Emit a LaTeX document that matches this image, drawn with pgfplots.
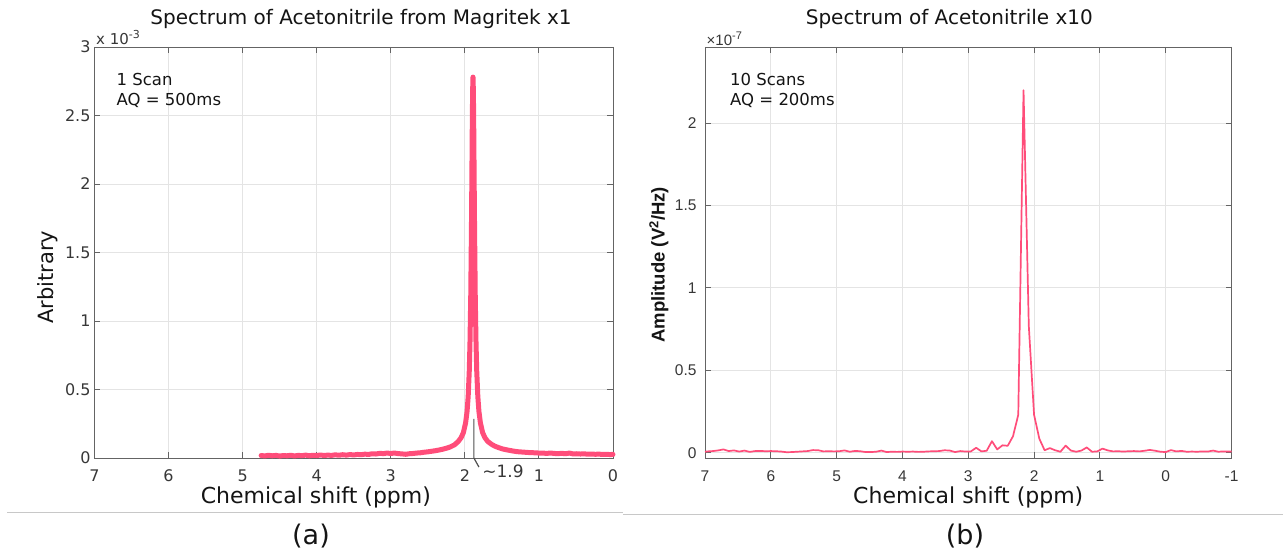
\documentclass[border=0pt]{standalone}
\usepackage{pgfplots}
\pgfplotsset{compat=1.18}
\usepackage{fontspec}
\setmainfont{DejaVu Sans}
\newfontfamily\arial{Liberation Sans}
\definecolor{pk}{RGB}{255,77,122}
\definecolor{axc}{RGB}{100,100,100}
\definecolor{tkc}{RGB}{55,55,55}
\definecolor{grc}{RGB}{228,228,228}
\definecolor{txc}{RGB}{20,20,20}
\definecolor{sepc}{RGB}{200,200,200}
\newcommand\fs[2]{\fontsize{#1bp}{#2bp}\selectfont}

\pgfplotstableread{
x y
4.75 0.018
4.70 0.015
4.65 0.020
4.60 0.016
4.55 0.019
4.50 0.014
4.45 0.018
4.40 0.016
4.35 0.020
4.30 0.015
4.25 0.019
4.20 0.017
4.15 0.021
4.10 0.016
4.05 0.020
4.00 0.018
3.95 0.022
3.90 0.018
3.85 0.021
3.80 0.019
3.75 0.023
3.70 0.020
3.65 0.024
3.60 0.021
3.55 0.025
3.50 0.022
3.45 0.026
3.40 0.024
3.35 0.028
3.30 0.026
3.25 0.031
3.20 0.029
3.15 0.034
3.10 0.032
3.05 0.036
3.00 0.033
2.95 0.036
2.90 0.032
2.85 0.030
2.80 0.027
2.75 0.031
2.70 0.033
2.65 0.036
2.60 0.038
2.55 0.042
2.50 0.045
2.45 0.049
2.40 0.053
2.35 0.058
2.30 0.064
2.25 0.071
2.20 0.080
2.14 0.096
2.09 0.120
2.05 0.149
2.02 0.185
1.99 0.256
1.97 0.340
1.955 0.450
1.94 0.640
1.93 0.860
1.92 1.200
1.91 1.740
1.905 2.070
1.90 2.410
1.895 2.680
1.89 2.780
1.885 2.680
1.88 2.410
1.875 2.070
1.87 1.740
1.86 1.200
1.85 0.860
1.84 0.640
1.825 0.450
1.81 0.340
1.79 0.256
1.76 0.185
1.73 0.149
1.69 0.120
1.64 0.100
1.59 0.085
1.54 0.075
1.49 0.066
1.44 0.060
1.39 0.055
1.34 0.050
1.29 0.046
1.24 0.044
1.19 0.042
1.14 0.040
1.09 0.039
1.04 0.037
0.99 0.036
0.94 0.035
0.89 0.034
0.84 0.036
0.79 0.033
0.74 0.032
0.69 0.034
0.64 0.031
0.59 0.036
0.54 0.030
0.49 0.031
0.44 0.029
0.39 0.030
0.34 0.028
0.29 0.029
0.24 0.027
0.19 0.028
0.14 0.026
0.09 0.027
0.04 0.025
0.00 0.026
}\magritek

\pgfplotstableread{
x y
7.00 0.006
6.96 0.008
6.88 0.010
6.80 0.014
6.72 0.020
6.64 0.010
6.56 0.014
6.48 0.007
6.40 0.013
6.32 0.005
6.24 0.010
6.16 0.011
6.08 0.009
6.00 0.010
5.92 0.009
5.84 0.007
5.76 0.003
5.68 0.004
5.60 0.006
5.52 0.008
5.44 0.010
5.36 0.016
5.28 0.015
5.20 0.008
5.12 0.009
5.04 0.008
4.96 0.009
4.88 0.014
4.80 0.006
4.72 0.011
4.64 0.009
4.56 0.004
4.48 0.004
4.40 0.006
4.32 0.013
4.24 0.004
4.16 0.006
4.08 0.005
4.00 0.007
3.92 0.006
3.84 0.007
3.76 0.005
3.68 0.006
3.60 0.008
3.52 0.009
3.44 0.010
3.36 0.015
3.28 0.013
3.20 0.004
3.12 0.010
3.04 0.007
2.96 0.008
2.88 0.030
2.80 0.008
2.72 0.012
2.64 0.070
2.56 0.020
2.48 0.045
2.40 0.042
2.32 0.100
2.24 0.230
2.16 2.200
2.08 0.770
2.00 0.230
1.92 0.085
1.84 0.015
1.76 0.028
1.68 0.015
1.60 0.006
1.52 0.043
1.44 0.013
1.36 0.006
1.28 0.013
1.20 0.032
1.12 0.006
1.04 0.008
0.96 0.025
0.88 0.014
0.80 0.008
0.72 0.009
0.64 0.007
0.56 0.009
0.48 0.010
0.40 0.008
0.32 0.012
0.24 0.017
0.16 0.012
0.08 0.006
0.00 0.004
-0.08 0.016
-0.16 0.008
-0.24 0.011
-0.32 0.006
-0.40 0.007
-0.48 0.006
-0.56 0.008
-0.64 0.007
-0.72 0.013
-0.80 0.006
-0.88 0.008
-0.96 0.007
-1.00 0.007
}\tenscans

\pgfplotsset{
  common/.style={
    scale only axis,
    x dir=reverse,
    axis line style={draw=axc, line width=0.9bp},
    every tick/.style={draw=axc, line width=0.9bp},
    major tick length=6bp,
    tick align=inside,
    xmajorgrids, ymajorgrids,
    major grid style={draw=grc, line width=0.9bp},
    tick label style={text=tkc},
    xticklabel style={anchor=base, yshift=-24bp},
    title style={anchor=base, text=txc},
    xlabel style={anchor=base, text=txc},
    ylabel style={anchor=center, text=txc},
    clip=false,
  }
}

\begin{document}
\begin{tikzpicture}[x=1bp,y=1bp]
\useasboundingbox (0,0) rectangle (1283,553);

% ---------------- panel (a)
\begin{axis}[common,
  at={(94.5bp,95bp)}, anchor=south west,
  width=518.5bp, height=411bp,
  xmin=0, xmax=7, ymin=0, ymax=3,
  xtick={0,1,2,3,4,5,6,7}, xticklabels={0,1,2,3,4,5,6,7},
  ytick={0,0.5,1,1.5,2,2.5,3}, yticklabels={0,0.5,1,1.5,2,2.5,3},
  tick label style={font=\fs{16}{19}},
  yticklabel style={anchor=east, inner sep=0pt, xshift=-3.8bp},
  title={Spectrum of Acetonitrile from Magritek x1},
  title style={at={(0.514,1)}, yshift=16.5bp, font=\fs{20}{24}},
  xlabel={Chemical shift (ppm)},
  xlabel style={at={(0.427,0)}, yshift=-46bp, font=\fs{22}{26}},
  ylabel={Arbitrary},
  ylabel style={at={(-0.0897,0.44)}, font=\fs{21}{25}},
]
\addplot[pk, line width=5bp, line cap=round, line join=round] table[x=x,y=y] {\magritek};
\draw[axc!80!black, line width=1.2bp] (axis cs:1.878,0.285) -- (axis cs:1.878,0) -- (axis cs:1.81,-0.066);
\node[anchor=base, font=\fs{17}{20}, text=tkc, inner sep=0pt] at (axis cs:1.485,-0.146) {\textasciitilde1.9};
\node[anchor=base west, font=\fs{16.5}{20}, text=txc, inner sep=0pt] at ([xshift=22bp, yshift=-39bp]rel axis cs:0,1) {1 Scan};
\node[anchor=base west, font=\fs{16.5}{20}, text=txc, inner sep=0pt] at ([xshift=22bp, yshift=-59bp]rel axis cs:0,1) {AQ = 500ms};
\node[anchor=base west, font=\fs{15}{18}, text=tkc, inner sep=0pt] at ([xshift=1.5bp, yshift=2.5bp]rel axis cs:0,1) {x 10\raisebox{0.42em}{\fs{11}{12}-3}};
\end{axis}

% ---------------- panel (b)
\begin{axis}[common,
  at={(705bp,95bp)}, anchor=south west,
  width=526.5bp, height=411bp,
  xmin=-1, xmax=7, ymin=-0.032, ymax=2.462,
  xtick={-1,0,1,2,3,4,5,6,7}, xticklabels={-1,0,1,2,3,4,5,6,7},
  ytick={0,0.5,1,1.5,2}, yticklabels={0,0.5,1,1.5,2},
  tick label style={font=\arial\fs{15.5}{18}},
  yticklabel style={anchor=east, inner sep=0pt, xshift=-8.3bp},
  title={Spectrum of Acetonitrile x10},
  title style={at={(0.464,1)}, yshift=16.5bp, font=\fs{20}{24}},
  xlabel={Chemical shift (ppm)},
  xlabel style={at={(0.5,0)}, yshift=-46bp, font=\fs{22}{26}},
  ylabel={\arial\bfseries Amplitude (V\textsuperscript{2}/Hz)},
  ylabel style={at={(-0.0874,0.47)}, font=\fs{18.5}{22}},
]
\addplot[pk, line width=1.7bp, line join=round] table[x=x,y=y] {\tenscans};
\node[anchor=base west, font=\fs{16.5}{20}, text=txc, inner sep=0pt] at ([xshift=25bp, yshift=-39bp]rel axis cs:0,1) {10 Scans};
\node[anchor=base west, font=\fs{16.5}{20}, text=txc, inner sep=0pt] at ([xshift=25bp, yshift=-59bp]rel axis cs:0,1) {AQ = 200ms};
\node[anchor=base west, font=\arial\fs{15}{18}, text=tkc, inner sep=0pt] at ([xshift=1.5bp, yshift=1.5bp]rel axis cs:0,1) {\texttimes10\raisebox{0.42em}{\fs{11}{12}-7}};
\end{axis}

% separators and panel letters
\draw[sepc, line width=1bp] (7,40) -- (623,40);
\draw[sepc, line width=1bp] (623,38.5) -- (1283,38.5);
\node[anchor=base, font=\fs{27}{30}, text=txc, inner sep=0pt] at (311,8) {(a)};
\node[anchor=base, font=\fs{27}{30}, text=txc, inner sep=0pt] at (965,8) {(b)};
\end{tikzpicture}
\end{document}
